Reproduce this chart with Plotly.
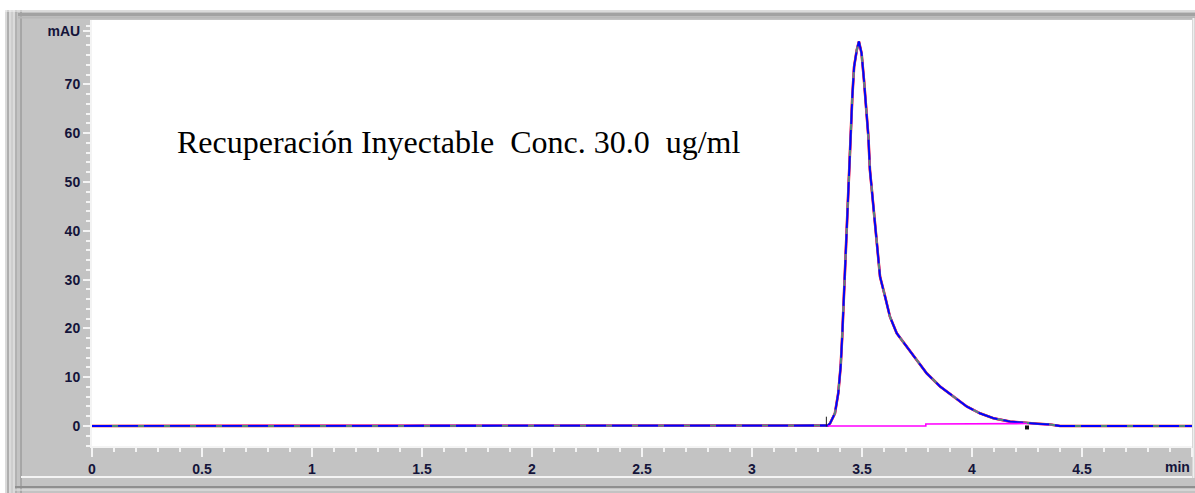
import plotly.graph_objects as go

# ---------------- data ----------------
time_min = [0.0, 3.33, 3.345, 3.355, 3.377, 3.392, 3.403, 3.410, 3.415, 3.420, 3.427,
            3.431, 3.442, 3.450, 3.456, 3.464, 3.476, 3.486, 3.498, 3.509, 3.518, 3.529,
            3.536, 3.547, 3.559, 3.567, 3.582, 3.605, 3.627, 3.658, 3.703, 3.756, 3.794,
            3.855, 3.915, 3.976, 4.036, 4.097, 4.173, 4.248, 4.300, 4.355, 4.40, 5.0]
signal_mau = [0, 0, 0.1, 0.55, 2.6, 6.7, 12.2, 18.3, 23.8, 29.9, 38.8,
              42.2, 52.5, 60.7, 67.5, 73.6, 77.0, 78.8, 76.4, 70.9, 65.4, 59.3,
              52.5, 47.0, 40.8, 36.7, 30.6, 26.5, 22.4, 19.0, 16.3, 13.2, 10.8,
              8.1, 6.0, 4.0, 2.6, 1.6, 0.9, 0.55, 0.45, 0.3, 0.0, 0.0]

baseline_t = [3.345, 3.79, 3.79, 4.25]
baseline_v = [0.0, 0.0, 0.4, 0.5]

event_start_t = [3.338]
event_start_v = [0.9]
event_end_t = [4.25]
event_end_v = [-0.3]

x_tickvals = [0, 0.5, 1, 1.5, 2, 2.5, 3, 3.5, 4, 4.5, 5]
x_ticktext = ["0", "0.5", "1", "1.5", "2", "2.5", "3", "3.5", "4", "4.5", ""]
x_unit = "min"
y_tickvals = [0, 10, 20, 30, 40, 50, 60, 70, 81]
y_ticktext = ["0", "10", "20", "30", "40", "50", "60", "70", "mAU"]

label_text = "Recuperación Inyectable\u00a0\u00a0Conc. 30.0\u00a0\u00a0ug/ml"

# ---------------- layout geometry ----------------
W, H = 1195, 493
L, R, T, B = 92, 3, 20, 47
PW, PH = W - L - R, H - T - B


def px(xp):
    return (xp - L) / PW


def py(yp):
    return (H - B - yp) / PH


fig = go.Figure()

# overlaid chromatogram traces
fig.add_trace(go.Scatter(x=time_min, y=signal_mau, mode="lines",
                         line=dict(color="#e00000", width=2.6), hoverinfo="skip"))
fig.add_trace(go.Scatter(x=time_min, y=signal_mau, mode="lines",
                         line=dict(color="#ff00ff", width=2.2), hoverinfo="skip"))
fig.add_trace(go.Scatter(x=time_min, y=signal_mau, mode="lines",
                         line=dict(color="#4f8a7a", width=2.0), hoverinfo="skip"))
fig.add_trace(go.Scatter(x=time_min, y=signal_mau, mode="lines",
                         line=dict(color="#0000ff", width=1.8, dash="20px,6px"),
                         hoverinfo="skip"))
# integration baseline
fig.add_trace(go.Scatter(x=baseline_t, y=baseline_v, mode="lines",
                         line=dict(color="#ff00ff", width=1.6), hoverinfo="skip"))
# integration event marks
fig.add_trace(go.Scatter(x=event_start_t, y=event_start_v, mode="markers",
                         marker=dict(symbol="line-ns", size=7,
                                     line=dict(color="#202020", width=1)),
                         hoverinfo="skip"))
fig.add_trace(go.Scatter(x=event_end_t, y=event_end_v, mode="markers",
                         marker=dict(symbol="square", size=4, color="#101010"),
                         hoverinfo="skip"))

fig.add_annotation(x=0.377, y=58.2, xref="x", yref="y", xanchor="left", yanchor="middle",
                   text=label_text, showarrow=False,
                   font=dict(family="Liberation Serif", size=32, color="#000000"))

tick_font = dict(family="Liberation Sans", size=14, color="#14143a", weight="bold")

fig.add_annotation(x=5, y=0, xref="x", yref="paper", xanchor="right", yanchor="top",
                   yshift=-11, text=x_unit, showarrow=False, font=tick_font)

# window-like frame
shapes = [
    dict(type="rect", xref="paper", yref="paper",
         x0=px(5), x1=px(1195), y0=py(10), y1=py(493),
         fillcolor="#c3c3c3", line=dict(width=0), layer="below"),
    dict(type="rect", xref="paper", yref="paper",
         x0=0, x1=1, y0=0, y1=1,
         fillcolor="#ffffff", line=dict(width=0), layer="below"),
]


def hline(y, x0, x1, color, w=1):
    shapes.append(dict(type="line", xref="paper", yref="paper",
                       x0=px(x0), x1=px(x1), y0=py(y), y1=py(y),
                       line=dict(color=color, width=w), layer="below"))


def vline(x, y0, y1, color, w=1):
    shapes.append(dict(type="line", xref="paper", yref="paper",
                       x0=px(x), x1=px(x), y0=py(y0), y1=py(y1),
                       line=dict(color=color, width=w), layer="below"))


for xx, c in [(6, "#f2f2f2"), (8, "#9a9a9a"), (10, "#f2f2f2"), (12, "#d8d8d8"),
              (14, "#f2f2f2"), (16, "#a0a0a0"), (21, "#8a8a8a")]:
    vline(xx, 10, 493, c)
hline(11, 5, 1195, "#f4f4f4")
hline(14.5, 18, 1195, "#a2a2a2", 3)
hline(17.5, 18, 1195, "#b8b8b8", 2)
hline(477, 21, 1192, "#f4f4f4", 2)
hline(487, 15, 1195, "#8f8f8f", 2)
hline(490, 15, 1195, "#e8e8e8", 1)
vline(1193.5, 18, 478, "#eeeeee", 2)

fig.update_layout(
    width=W, height=H,
    margin=dict(l=L, r=R, t=T, b=B),
    paper_bgcolor="#ffffff",
    plot_bgcolor="#ffffff",
    showlegend=False,
    shapes=shapes,
    font=dict(family="Liberation Sans", size=13, color="#14143a"),
)

fig.update_xaxes(range=[0, 5], tickvals=x_tickvals, ticktext=x_ticktext,
                 ticks="outside", ticklen=9, tickwidth=1.5, tickcolor="#f4f4f4",
                 showline=True, linecolor="#f4f4f4", linewidth=2,
                 showgrid=False, zeroline=False,
                 minor=dict(dtick=0.1, ticklen=4, tickwidth=1.5, tickcolor="#f4f4f4",
                            ticks="outside", showgrid=False),
                 tickfont=tick_font)
fig.update_yaxes(range=[-4.1, 83.2], tickvals=y_tickvals, ticktext=y_ticktext,
                 ticks="outside", ticklen=7, tickwidth=1.5, tickcolor="#f4f4f4",
                 showline=True, linecolor="#f4f4f4", linewidth=2,
                 showgrid=False, zeroline=False,
                 minor=dict(dtick=2, ticklen=4, tickwidth=1.5, tickcolor="#f4f4f4",
                            ticks="outside", showgrid=False),
                 tickfont=tick_font)

fig.write_html("out.html")
